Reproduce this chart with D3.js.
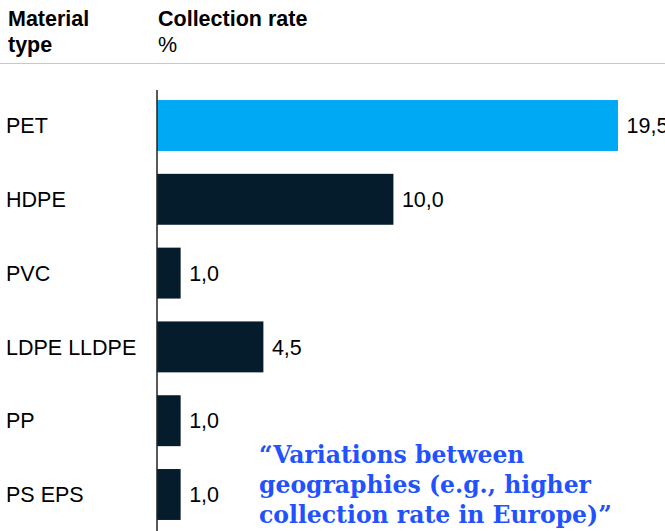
<!DOCTYPE html>
<html>
<head>
<meta charset="utf-8">
<script src="https://cdn.jsdelivr.net/npm/d3@7"></script>
<style>
  html, body { margin: 0; padding: 0; background: #fff; }
  svg { display: block; }
</style>
</head>
<body>
<svg id="chart" width="665" height="531"></svg>
<script>
const categories = ["PET", "HDPE", "PVC", "LDPE LLDPE", "PP", "PS EPS"];
const values = [19.5, 10.0, 1.0, 4.5, 1.0, 1.0];
const valueLabels = ["19,5", "10,0", "1,0", "4,5", "1,0", "1,0"];
const highlighted = ["PET"];
const headerLeft = ["Material", "type"];
const headerRight = ["Collection rate", "%"];
const quoteLines = ["\u201CVariations between", "geographies (e.g., higher", "collection rate in Europe)\u201D"];

const svg = d3.select("#chart");
const font = "Arial, 'Liberation Sans', sans-serif";

const x = d3.scaleLinear().domain([0, 19.5]).range([157, 618]);
const y = d3.scaleBand().domain(categories).range([88.6, 531.4]).paddingInner(0.31).paddingOuter(0.155);

// Header
svg.append("text").attr("x", 8).attr("y", 26).attr("font-family", font).attr("font-size", 21.5).attr("font-weight", "bold").attr("fill", "#000").text(headerLeft[0]);
svg.append("text").attr("x", 8).attr("y", 52).attr("font-family", font).attr("font-size", 21.5).attr("font-weight", "bold").attr("fill", "#000").text(headerLeft[1]);
svg.append("text").attr("x", 158).attr("y", 26).attr("font-family", font).attr("font-size", 21.5).attr("font-weight", "bold").attr("fill", "#000").text(headerRight[0]);
svg.append("text").attr("x", 158).attr("y", 52).attr("font-family", font).attr("font-size", 21.5).attr("fill", "#000").text(headerRight[1]);
svg.append("line").attr("x1", 0).attr("x2", 665).attr("y1", 63.5).attr("y2", 63.5).attr("stroke", "#c8c8c8").attr("stroke-width", 1);

// Bars
svg.selectAll("rect.bar").data(categories).join("rect")
  .attr("class", "bar")
  .attr("x", x(0))
  .attr("y", d => y(d))
  .attr("width", (d, i) => x(values[i]) - x(0))
  .attr("height", y.bandwidth())
  .attr("fill", d => highlighted.includes(d) ? "#00A9F4" : "#051C2C");

// Category labels
svg.selectAll("text.cat").data(categories).join("text")
  .attr("class", "cat")
  .attr("x", 6)
  .attr("y", d => y(d) + y.bandwidth() / 2)
  .attr("dy", "0.36em")
  .attr("font-family", font).attr("font-size", 21.5).attr("fill", "#000")
  .text(d => d);

// Value labels
svg.selectAll("text.val").data(categories).join("text")
  .attr("class", "val")
  .attr("x", (d, i) => x(values[i]) + 8.5)
  .attr("y", d => y(d) + y.bandwidth() / 2)
  .attr("dy", "0.36em")
  .attr("font-family", font).attr("font-size", 21.5).attr("fill", "#000")
  .text((d, i) => valueLabels[i]);

// Axis line
svg.append("line").attr("x1", 157).attr("x2", 157).attr("y1", 90).attr("y2", 531).attr("stroke", "#222").attr("stroke-width", 1.5);

// Quote
svg.selectAll("text.quote").data(quoteLines).join("text")
  .attr("class", "quote")
  .attr("x", 259)
  .attr("y", (d, i) => 463 + i * 30)
  .attr("font-family", "'DejaVu Serif', Georgia, serif")
  .attr("font-size", 23.5).attr("font-weight", "bold").attr("fill", "#2251FF")
  .text(d => d);
</script>
</body>
</html>
